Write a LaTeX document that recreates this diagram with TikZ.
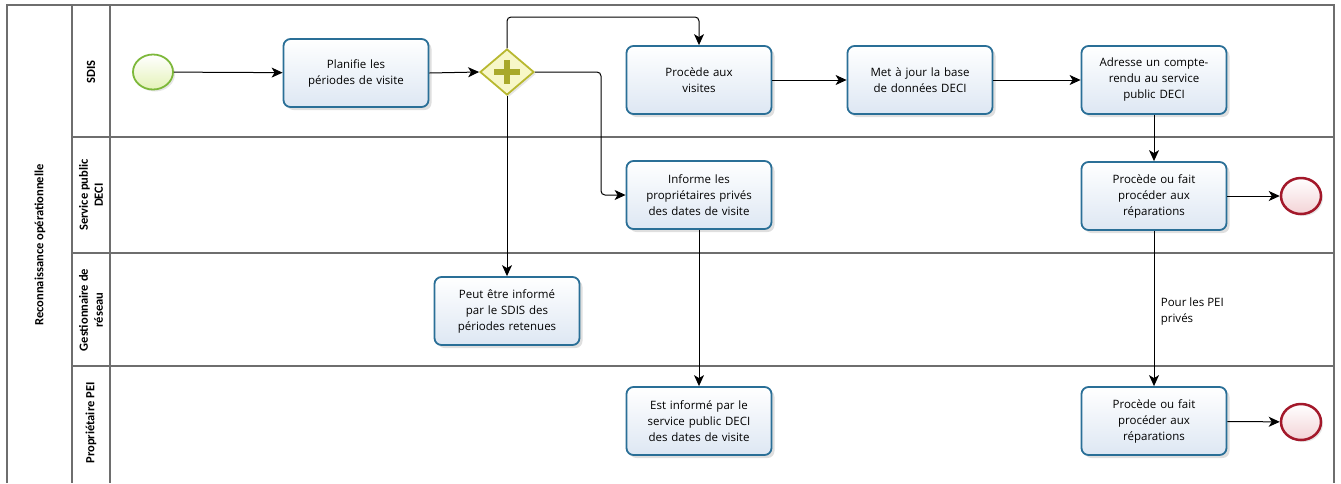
\documentclass[tikz,border=0pt]{standalone}
\usepackage{fontspec}
\setmainfont{Open Sans}
\newfontfamily\lanefont{Carlito}
\usetikzlibrary{shapes.geometric,arrows.meta,shadows,calc}
\definecolor{taskblue}{HTML}{2A6F97}
\definecolor{taskfill}{HTML}{DDE7F3}
\definecolor{laneline}{HTML}{6E6E6E}
\definecolor{startgreen}{HTML}{7DB83A}
\definecolor{startfill}{HTML}{E4F2B8}
\definecolor{endred}{HTML}{A3182A}
\definecolor{endfill}{HTML}{F3D3D6}
\definecolor{gwline}{HTML}{B8B830}
\definecolor{gwfill}{HTML}{F7F7C8}
\definecolor{gwplus}{HTML}{A9A92A}
\tikzset{
  task/.style={draw=taskblue, line width=1.8pt, rounded corners=7pt,
    top color=white, bottom color=taskfill, minimum width=145pt, minimum height=68pt,
    align=center, text width=141pt, inner sep=2pt,
    font=\fontsize{11.5}{16}\selectfont,
    drop shadow={opacity=0.25, shadow xshift=3pt, shadow yshift=-3pt}},
  startev/.style={ellipse, draw=startgreen, line width=1.8pt, top color=white, bottom color=startfill,
    minimum width=40pt, minimum height=35pt, inner sep=0pt,
    drop shadow={opacity=0.2, shadow xshift=2pt, shadow yshift=-2pt}},
  endev/.style={ellipse, draw=endred, line width=2.5pt, top color=white, bottom color=endfill,
    minimum width=40pt, minimum height=36pt, inner sep=0pt,
    drop shadow={opacity=0.2, shadow xshift=2pt, shadow yshift=-2pt}},
  gateway/.style={diamond, draw=gwline, line width=1.8pt, fill=gwfill,
    minimum width=54pt, minimum height=46pt, inner sep=0pt,
    drop shadow={opacity=0.2, shadow xshift=2pt, shadow yshift=-2pt}},
  flow/.style={draw=black, line width=1pt, rounded corners=4pt, -{Stealth[length=11pt,width=10pt,inset=3pt]}},
  lane/.style={draw=laneline, line width=1.4pt},
  lanelabel/.style={rotate=90, align=center, font=\lanefont\bfseries\fontsize{12.5}{15}\selectfont},
  notelabel/.style={align=left, font=\fontsize{11.5}{16}\selectfont}
}
\begin{document}
\begin{tikzpicture}[x=1pt,y=-1pt]
\useasboundingbox (0,0) rectangle (1341,483);
% pool and lanes
\draw[lane] (7,483) -- (7,5) -- (1334,5) -- (1334,483);
\draw[lane] (72,5) -- (72,483);
\draw[lane] (110,5) -- (110,483);
\draw[lane] (72,137) -- (1334,137);
\draw[lane] (72,253) -- (1334,253);
\draw[lane] (72,366) -- (1334,366);
\node[lanelabel] (pool) at (40,245) {Reconnaissance opérationnelle};
\node[lanelabel] (l1) at (91,72) {SDIS};
\node[lanelabel] (l2) at (91,195) {Service public\\DECI};
\node[lanelabel] (l3) at (91,310) {Gestionnaire de\\réseau};
\node[lanelabel] (l4) at (91,423) {Propriétaire PEI};
% nodes
\node[startev] (start) at (153,72) {};
\node[task] (plan) at (356,73) {Planifie les\\périodes de visite};
\node[gateway] (gw) at (507,72) {};
\draw[gwplus, line width=5.5pt] ($(gw.center)+(-13,0)$) -- ($(gw.center)+(13,0)$);
\draw[gwplus, line width=5.5pt] ($(gw.center)+(0,-12)$) -- ($(gw.center)+(0,12)$);
\node[task] (pav) at (699,80) {Procède aux\\visites};
\node[task] (maj) at (920,80) {Met à jour la base\\de données DECI};
\node[task] (adr) at (1154,80) {Adresse un compte-\\rendu au service\\public DECI};
\node[task] (inf) at (699,195) {Informe les\\propriétaires privés\\des dates de visite};
\node[task] (pdeci) at (1154,196) {Procède ou fait\\procéder aux\\réparations};
\node[endev] (end1) at (1301,196) {};
\node[task] (peut) at (507,311) {Peut être informé\\par le SDIS des\\périodes retenues};
\node[task] (est) at (699,421) {Est informé par le\\service public DECI\\des dates de visite};
\node[task] (ppei) at (1154,421) {Procède ou fait\\procéder aux\\réparations};
\node[endev] (end2) at (1301,422) {};
% connectors
\coordinate (top) at (600,17);
\coordinate (mid) at (601,130);
\draw[flow] (start) -- (plan);
\draw[flow] (plan.east) -- (gw.west);
\draw[flow] (gw.north) |- (top) -| (pav.north);
\draw[flow] (gw.east) -| (mid) |- (inf.west);
\draw[flow] (gw.south) -- (peut.north);
\draw[flow] (pav) -- (maj);
\draw[flow] (maj) -- (adr);
\draw[flow] (adr) -- (pdeci);
\draw[flow] (pdeci) -- (end1);
\draw[flow] (pdeci) -- (ppei) node[notelabel, pos=0.5, anchor=west, xshift=3pt, yshift=-3pt] (note) {Pour les PEI\\privés};
\draw[flow] (inf.south) -- (est.north);
\draw[flow] (ppei) -- (end2);
\end{tikzpicture}
\end{document}
